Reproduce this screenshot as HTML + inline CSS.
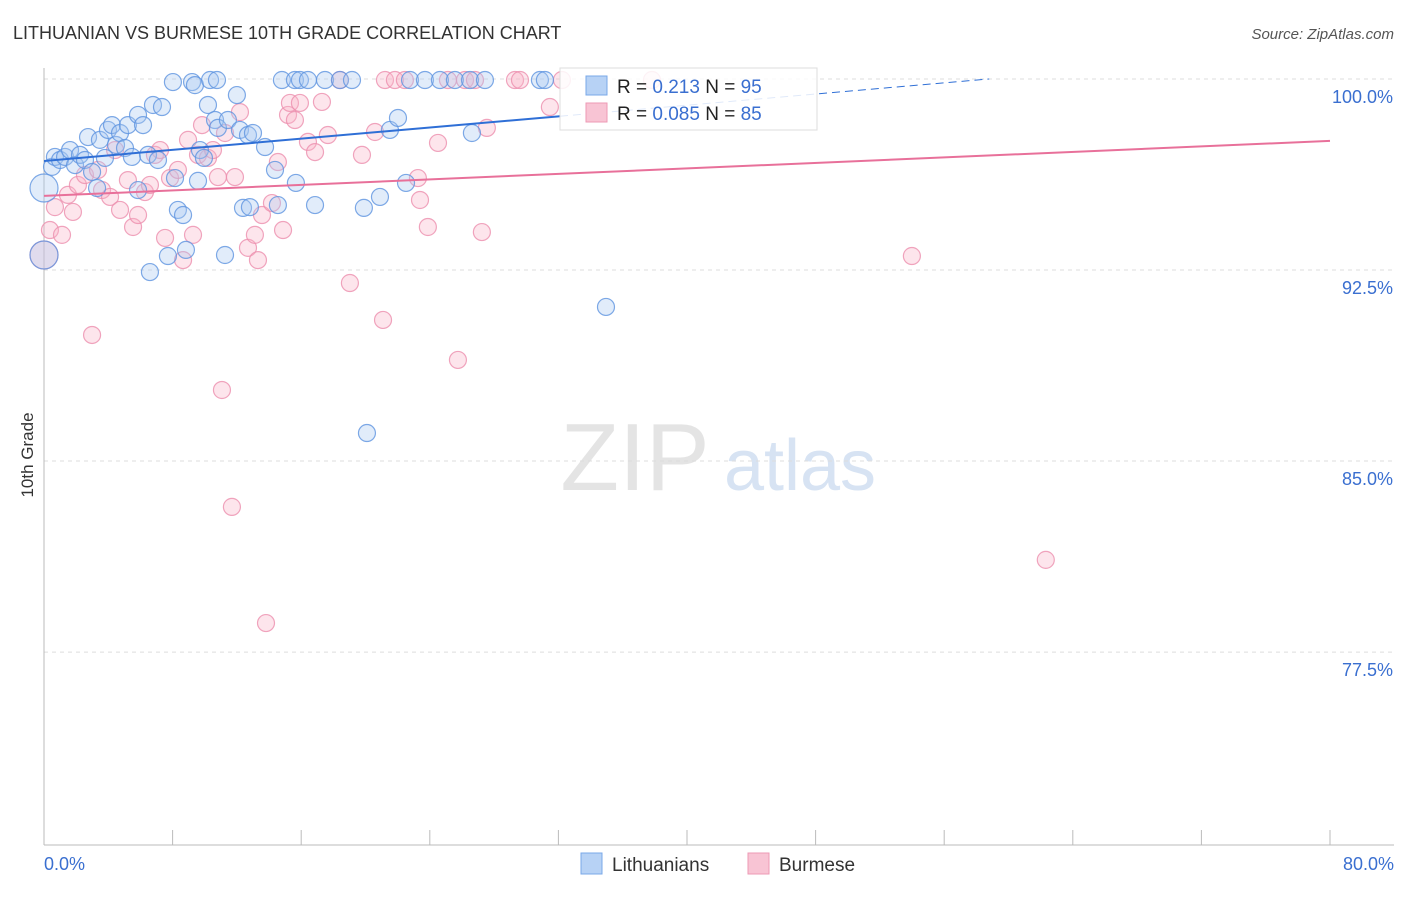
<!DOCTYPE html>
<html><head><meta charset="utf-8"><style>
body{margin:0;background:#fff;font-family:"Liberation Sans",sans-serif;}
svg text{font-family:"Liberation Sans",sans-serif;}
</style></head><body>
<svg id="chart" width="1406" height="892" viewBox="0 0 1406 892" xmlns="http://www.w3.org/2000/svg">
<text x="13" y="39" font-size="18" fill="#333">LITHUANIAN VS BURMESE 10TH GRADE CORRELATION CHART</text>
<text x="1394" y="39" font-size="15" fill="#555" text-anchor="end" font-style="italic">Source: ZipAtlas.com</text>
<text transform="translate(33,455) rotate(-90)" font-size="17" fill="#333" text-anchor="middle">10th Grade</text>
<g>
<text x="635" y="490" font-size="96" fill="#e4e4e4" font-family="Liberation Serif" text-anchor="middle">ZIP</text>
<text x="800" y="490" font-size="72" fill="#d7e3f3" text-anchor="middle">atlas</text>
</g>
<g id="grid"></g><g id="axes"></g><g id="pts"></g><g id="lines"></g>
<g>
<rect x="560" y="68" width="257" height="62" fill="#fff" fill-opacity="0.85" stroke="#ddd"/>
<rect x="586" y="76" width="21" height="19" fill="#b7d2f5" stroke="#7aa8e8"/>
<rect x="586" y="103" width="21" height="19" fill="#f8c4d4" stroke="#ee9ab5"/>
<text x="617" y="93" font-size="19" fill="#222">R = <tspan fill="#3a6fd0">0.213</tspan>   N = <tspan fill="#3a6fd0">95</tspan></text>
<text x="617" y="120" font-size="19" fill="#222">R = <tspan fill="#3a6fd0">0.085</tspan>   N = <tspan fill="#3a6fd0">85</tspan></text>
</g>
<g>
<rect x="581" y="853" width="21" height="21" fill="#b7d2f5" stroke="#7aa8e8"/>
<text x="612" y="871" font-size="19" fill="#333">Lithuanians</text>
<rect x="748" y="853" width="21" height="21" fill="#f8c4d4" stroke="#ee9ab5"/>
<text x="779" y="871" font-size="19" fill="#333">Burmese</text>
</g>
</svg>
<script>
const blueX=[0.5,0.68,1.0,1.31,1.62,1.93,2.24,2.55,2.74,2.99,3.3,3.48,3.79,3.98,4.23,4.48,4.73,5.04,5.22,5.47,5.85,5.85,6.16,6.47,6.59,6.78,7.09,7.34,7.71,8.02,8.15,8.33,8.65,8.83,9.21,9.39,9.58,9.7,9.95,10.2,10.33,10.76,10.64,10.82,11.26,11.44,12.0,12.19,12.38,12.69,12.81,13.0,13.75,14.37,14.55,14.8,15.61,15.67,15.92,16.42,16.86,17.48,18.41,19.16,19.9,20.09,20.9,21.52,22.02,22.52,22.77,23.7,24.63,25.56,26.5,26.62,27.43,30.85,31.16,34.96,0,0];
const blueY=[96.55,96.94,96.82,96.94,97.21,96.62,97.02,96.82,97.72,96.35,95.72,97.61,96.9,98.0,98.19,97.41,97.88,97.29,98.19,96.94,98.59,95.64,98.19,97.02,92.42,98.98,96.82,98.9,93.05,99.88,96.11,94.86,94.66,93.29,99.88,99.76,96.0,97.21,96.9,98.98,99.96,99.96,98.39,98.08,93.09,98.39,99.37,98.0,94.94,97.8,94.97,97.88,97.33,96.43,95.05,99.96,99.96,95.92,99.96,99.96,95.05,99.96,99.96,99.96,94.94,86.1,95.37,98.0,98.47,95.92,99.96,99.96,99.96,99.96,99.96,97.88,99.96,99.96,99.96,91.05,95.72,93.09];
const pinkX=[0,0.37,0.68,1.12,1.49,1.8,2.11,2.55,2.99,3.36,3.61,4.11,4.42,4.73,5.22,5.54,5.85,6.28,6.59,6.9,7.22,7.53,7.84,8.33,8.65,8.96,9.27,9.58,9.83,10.2,10.51,10.82,11.07,11.26,11.69,11.88,12.19,12.69,13.12,13.31,13.56,13.81,14.18,14.55,14.87,15.18,15.3,15.61,15.92,16.42,16.86,17.29,17.66,18.41,19.03,19.78,20.59,21.09,21.21,21.83,22.45,23.26,23.39,23.88,24.51,25.13,25.75,26.19,26.81,27.24,27.55,29.3,29.61,31.47,32.22,37.82,53.99,62.32];
const pinkY=[93.09,94.07,94.97,93.88,95.45,94.78,95.84,96.23,89.95,96.43,95.64,95.37,97.21,94.86,96.03,94.19,94.66,95.56,95.84,97.02,97.21,93.76,96.11,96.43,92.89,97.61,93.88,97.02,98.19,96.9,97.21,96.15,87.79,97.88,83.2,96.15,98.7,93.37,93.88,92.89,94.66,78.64,95.13,96.74,94.07,98.59,99.06,98.39,99.06,97.53,97.13,99.1,97.8,99.96,91.99,97.02,97.92,90.54,99.96,99.96,99.96,96.11,95.25,94.19,97.49,99.96,88.97,99.96,99.96,93.99,98.08,99.96,99.96,98.9,99.96,99.96,93.05,81.12];
const yTicks=[100,92.5,85,77.5];
const yTickLabels=["100.0%","92.5%","85.0%","77.5%"];
const xTicks=[0,8,16,24,32,40,48,56,64,72,80];
const xEndLabels=["0.0%","80.0%"];
const blueTrend=[96.78,0.0548];
const pinkTrend=[95.41,0.027];
const NS="http://www.w3.org/2000/svg";
const X=v=>44+v*(1286/80);
const Y=v=>79+(100-v)*25.47;
function mk(par,tag,at){const e=document.createElementNS(NS,tag);for(const k in at)e.setAttribute(k,at[k]);document.getElementById(par).appendChild(e);return e;}
yTicks.forEach((t,i)=>{
 const g=mk('grid','line',{x1:44,x2:1394,y1:Y(t),y2:Y(t),stroke:'#ddd','stroke-dasharray':'4,4'});
 
 
 const tx=mk('axes','text',{x:1393,y:Y(t)+24,'font-size':18,fill:'#3a6fd0','text-anchor':'end'});
 tx.textContent=yTickLabels[i];
 
 
});
const ax=mk('axes','line',{x1:44,x2:1394,y1:845,y2:845,stroke:'#bbb'});


const ay=mk('axes','line',{x1:44,x2:44,y1:68,y2:845,stroke:'#bbb'});


xTicks.forEach(t=>{const l=mk('axes','line',{x1:X(t),x2:X(t),y1:830,y2:845,stroke:'#bbb'});
 
 });
[[0,'start',44],[80,'end',1394]].forEach((p,i)=>{const t=mk('axes','text',{x:p[2],y:870,'font-size':18,fill:'#3a6fd0','text-anchor':p[1]});t.textContent=xEndLabels[i];
 
 });
function dots(xs,ys,fill,stroke,name){xs.forEach((x,i)=>{const big=(x===0);
 const c=mk('pts','circle',{cx:X(x),cy:Y(ys[i]),r:big?14:8.5,fill:fill,'fill-opacity':0.35,stroke:stroke,'stroke-width':1.2,'stroke-opacity':0.8});
 
 });}
dots(pinkX,pinkY,'#f8b4c8','#ec8fae','burmese-point');
dots(blueX,blueY,'#a9c8f2','#5e93e0','lithuanian-point');
const bl=mk('lines','line',{x1:X(0),y1:Y(blueTrend[0]),x2:X(32.1),y2:Y(blueTrend[0]+blueTrend[1]*32.1),stroke:'#2f6fd6','stroke-width':2});


const bd=mk('lines','line',{x1:X(32.1),y1:Y(blueTrend[0]+blueTrend[1]*32.1),x2:X(58.8),y2:Y(blueTrend[0]+blueTrend[1]*58.8),stroke:'#2f6fd6','stroke-width':1,'stroke-dasharray':'8,5'});


const pl=mk('lines','line',{x1:X(0),y1:Y(pinkTrend[0]),x2:X(80),y2:Y(pinkTrend[0]+pinkTrend[1]*80),stroke:'#e8709a','stroke-width':2});


</script>
</body></html>
